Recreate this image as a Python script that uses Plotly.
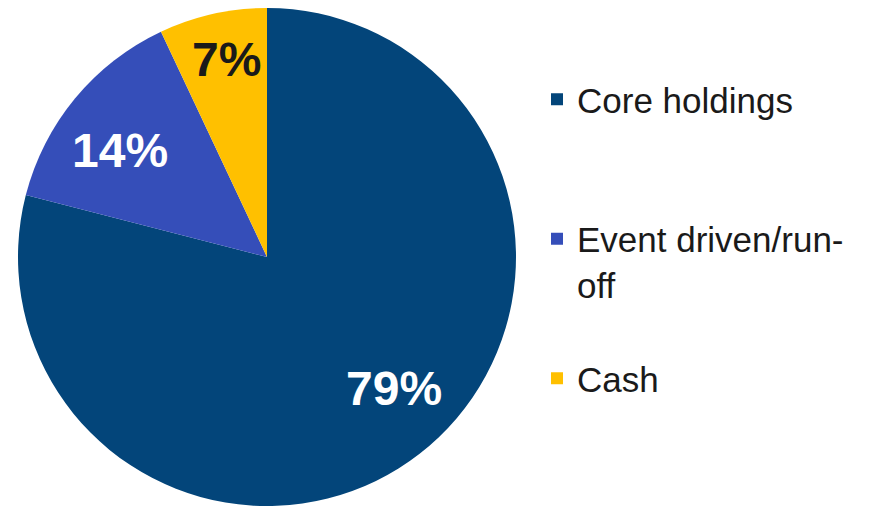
import math
import plotly.graph_objects as go

labels = ["Core holdings<br> <br> ", "Event driven/run-<br>off<br> ", "Cash"]
values = [79, 14, 7]
colors = ["#03457A", "#354EB9", "#FFC000"]
label_colors = ["#FFFFFF", "#FFFFFF", "#1A1A1A"]
# label placement (style): fraction along each slice's arc, and fraction of radius
label_arc_pos = [0.478, 0.427, 0.54]
label_radius = [0.735, 0.73, 0.81]

W, H = 865, 498
FONT = "Arial, Liberation Sans, sans-serif"

# pie geometry (pixels in figure space)
dom_x = [8 / W, 510 / W]
dom_y = [0.0, 1.0]
cx = (dom_x[0] + dom_x[1]) / 2 * W
cy = H - (dom_y[0] + dom_y[1]) / 2 * H
R = min((dom_x[1] - dom_x[0]) * W, (dom_y[1] - dom_y[0]) * H) / 2

fig = go.Figure(go.Pie(
    labels=labels,
    values=values,
    sort=False,
    direction="clockwise",
    rotation=0,
    marker=dict(colors=colors, line=dict(width=0)),
    textinfo="none",
    domain=dict(x=dom_x, y=dom_y),
    hoverinfo="label+percent",
))

total = sum(values)
cum = 0
for v, col, ap, rf in zip(values, label_colors, label_arc_pos, label_radius):
    ang = (cum + v * ap) / total * 2 * math.pi
    cum += v
    px = cx + rf * R * math.sin(ang)
    py = cy - rf * R * math.cos(ang)
    fig.add_annotation(
        x=px / W, y=1 - py / H, xref="paper", yref="paper",
        text=f"{round(v / total * 100)}%", showarrow=False,
        font=dict(family=FONT, size=48, color=col, weight="bold"),
        xanchor="center", yanchor="middle",
    )

fig.update_layout(
    width=W, height=H,
    margin=dict(l=0, r=0, t=0, b=0),
    paper_bgcolor="white",
    plot_bgcolor="white",
    showlegend=True,
    legend=dict(
        x=529 / W, xanchor="left",
        y=1 - 62 / H, yanchor="top",
        font=dict(family=FONT, size=35, color="#1A1A1A"),
        valign="top",
        itemclick=False,
    ),
)

fig.write_html("out.html")
